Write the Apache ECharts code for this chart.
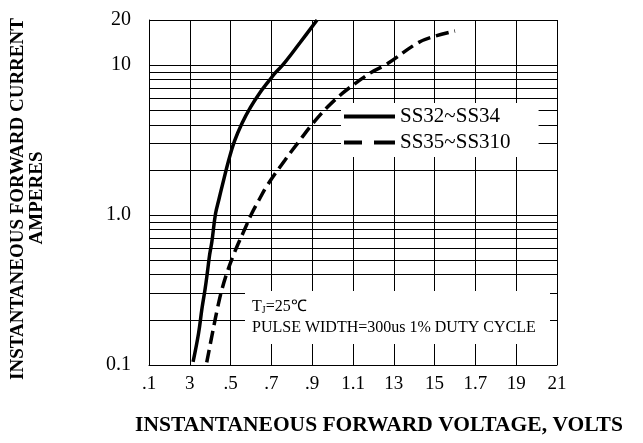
<!DOCTYPE html>
<html>
<head>
<meta charset="utf-8">
<script src="https://cdn.jsdelivr.net/npm/echarts@6/dist/echarts.min.js"></script>
<style>
html,body{margin:0;padding:0;background:#fff;}
#chart{width:643px;height:443px;}
</style>
</head>
<body>
<div id="chart"></div>
<script>
// Series names
const seriesNames = ['SS32~SS34', 'SS35~SS310'];

// SS32~SS34 (solid): forward voltage (V) and current (A)
const voltsSS32 = [0.316, 0.343, 0.360, 0.375, 0.387, 0.397, 0.408, 0.426, 0.442, 0.460, 0.491, 0.519, 0.556, 0.598, 0.642, 0.683, 0.722, 0.759, 0.840, 0.924];
const ampsSS32  = [0.105, 0.163, 0.24,  0.321, 0.423, 0.541, 0.661, 1.02,  1.26,  1.59,  2.33,  3.11,  4.1,   5.25,  6.5,   7.7,   8.98,  10.15, 14.1,  20];

// SS35~SS310 (dashed)
const voltsSS35 = [0.383, 0.411, 0.436, 0.458, 0.485, 0.514, 0.541, 0.563, 0.603, 0.639, 0.681, 0.767, 0.836, 0.904, 0.975, 1.049, 1.120, 1.191, 1.265, 1.419, 1.502, 1.6];
const ampsSS35  = [0.104, 0.163, 0.24,  0.321, 0.423, 0.541, 0.661, 0.77,  1.02,  1.26,  1.59,  2.33,  3.11,  4.1,   5.25,  6.5,   7.7,   8.98,  10.15, 14.1,  15.6,  16.9];

// Axis ticks
const xMin = 0.1, xMax = 2.1, xStep = 0.2;
const xTickLabels = ['.1', '3', '.5', '.7', '.9', '1.1', '13', '15', '1.7', '19', '21'];
const yMin = 0.1, yMax = 20;
const yMinorGrid = [0.2, 0.3, 0.4, 0.5, 0.6, 0.7, 0.8, 0.9, 2, 3, 4, 5, 6, 7, 8, 9];

const xTitle = 'INSTANTANEOUS FORWARD VOLTAGE, VOLTS';
const yTitle1 = 'INSTANTANEOUS FORWARD CURRENT';
const yTitle2 = 'AMPERES';
const noteLine1 = 'T';
const noteSub = 'J';
const noteLine1b = '=25℃';
const noteLine2 = 'PULSE WIDTH=300us 1% DUTY CYCLE';

const FONT = 'Liberation Serif, Times New Roman, serif';

function pairs(xs, ys) { return xs.map((x, i) => [x, ys[i]]); }

const chart = echarts.init(document.getElementById('chart'), null, {renderer: 'canvas'});
chart.setOption({
  animation: false,
  backgroundColor: '#fff',
  grid: {left: 149, top: 20, width: 408, height: 345, containLabel: false},
  xAxis: {
    type: 'value', min: xMin, max: xMax, interval: xStep,
    axisLine: {show: true, lineStyle: {color: '#000', width: 1}},
    axisTick: {show: false},
    splitLine: {show: true, lineStyle: {color: '#000', width: 1}},
    axisLabel: {
      margin: 10, color: '#000', fontFamily: FONT, fontSize: 19,
      formatter: v => xTickLabels[Math.round((v - xMin) / xStep)] || ''
    }
  },
  yAxis: {
    type: 'log', logBase: 10, min: yMin, max: yMax,
    axisLine: {show: true, lineStyle: {color: '#000', width: 1}},
    axisTick: {show: false},
    splitLine: {show: true, lineStyle: {color: '#000', width: 1}},
    axisLabel: {
      margin: 18, color: '#000', fontFamily: FONT, fontSize: 20,
      formatter: v => (v >= 10 ? String(Math.round(v)) : v.toFixed(1))
    }
  },
  legend: {
    orient: 'vertical', left: 341, top: 103,
    backgroundColor: '#fff', z: 4,
    padding: [3, 28, 4, 3],
    itemWidth: 51, itemHeight: 4, itemGap: 5,
    selectedMode: false,
    textStyle: {color: '#000', fontFamily: FONT, fontSize: 21, lineHeight: 21},
    data: [
      {name: seriesNames[0], icon: 'path://M0,0H51V4H0Z', itemStyle: {color: '#000'}},
      {name: seriesNames[1], icon: 'path://M0,0H18V4H0Z M30,0H51V4H30Z', itemStyle: {color: '#000'}}
    ]
  },
  series: [
    {
      name: seriesNames[0], type: 'line', z: 5, smooth: 0.4, showSymbol: false, symbol: 'none',
      color: '#000',
      lineStyle: {color: '#000', width: 3.5, type: 'solid'},
      data: pairs(voltsSS32, ampsSS32),
      markLine: {
        silent: true, symbol: 'none', z: 1, animation: false,
        label: {show: false},
        emphasis: {disabled: true},
        lineStyle: {color: '#000', width: 1, type: 'solid'},
        data: yMinorGrid.map(v => ({yAxis: v}))
      }
    },
    {
      name: seriesNames[1], type: 'line', z: 5, smooth: 0.4, showSymbol: false, symbol: 'none',
      color: '#000',
      lineStyle: {color: '#000', width: 3.5, type: [13, 6]},
      data: pairs(voltsSS35, ampsSS35)
    }
  ],
  graphic: [
    {
      type: 'text', z: 10, x: 379, y: 425,
      style: {text: xTitle, align: 'center', verticalAlign: 'middle',
        font: 'bold 21.5px ' + FONT, fill: '#000'}
    },
    {
      type: 'text', z: 10, x: 18.5, y: 199, rotation: Math.PI / 2,
      style: {text: yTitle1, align: 'center', verticalAlign: 'middle',
        font: 'bold 19px ' + FONT, fill: '#000'}
    },
    {
      type: 'text', z: 10, x: 37, y: 198, rotation: Math.PI / 2,
      style: {text: yTitle2, align: 'center', verticalAlign: 'middle',
        font: 'bold 19px ' + FONT, fill: '#000'}
    },
    {
      type: 'rect', z: 10, shape: {x: 245, y: 291, width: 305, height: 53},
      style: {fill: '#fff'}
    },
    {
      type: 'text', z: 11, x: 252, y: 307,
      style: {
        text: '{a|' + noteLine1 + '}{b|' + noteSub + '}{a|' + noteLine1b + '}',
        verticalAlign: 'middle', fill: '#000',
        rich: {
          a: {fontFamily: FONT, fontSize: 16, fill: '#000'},
          b: {fontFamily: FONT, fontSize: 10, fill: '#000', padding: [7, 0, 0, 0]}
        }
      }
    },
    {
      type: 'text', z: 11, x: 252, y: 328,
      style: {text: noteLine2, verticalAlign: 'middle', font: '16px ' + FONT, fill: '#000'}
    }
  ]
});
</script>
</body>
</html>
